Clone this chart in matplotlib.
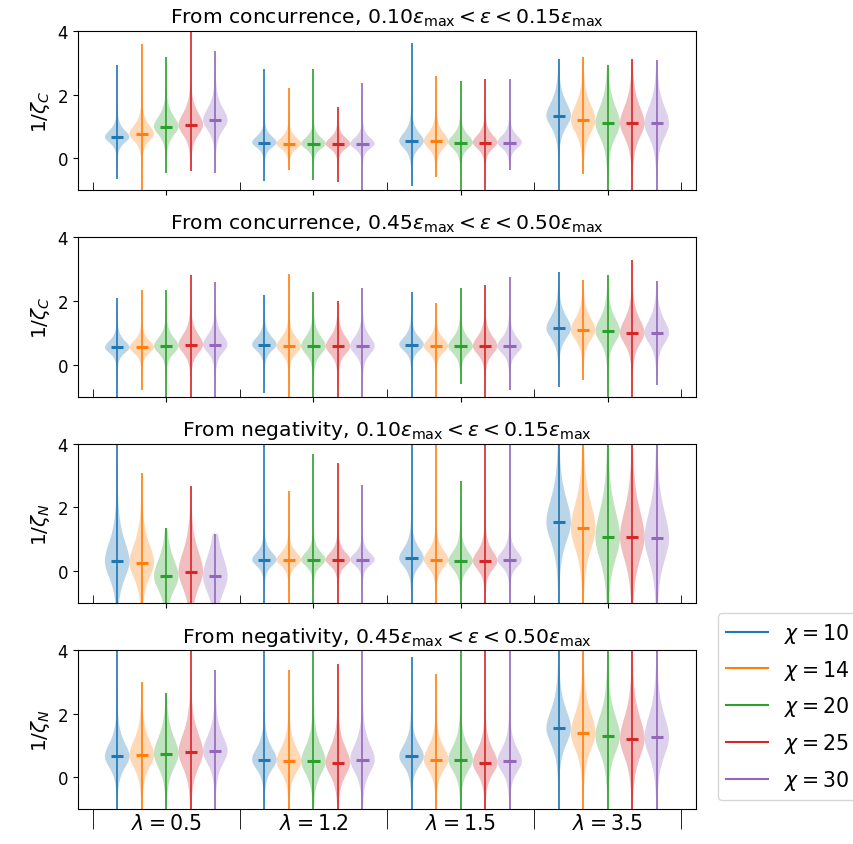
import numpy as np
import matplotlib.pyplot as plt
from matplotlib.lines import Line2D

plt.rcParams['font.size'] = 12

lambdas = ['0.5', '1.2', '1.5', '3.5']
chis = [10, 14, 20, 25, 30]
colors = ['C0', 'C1', 'C2', 'C3', 'C4']

titles = [
    r'From concurrence, $0.10\varepsilon_{\max} < \varepsilon < 0.15\varepsilon_{\max}$',
    r'From concurrence, $0.45\varepsilon_{\max} < \varepsilon < 0.50\varepsilon_{\max}$',
    r'From negativity, $0.10\varepsilon_{\max} < \varepsilon < 0.15\varepsilon_{\max}$',
    r'From negativity, $0.45\varepsilon_{\max} < \varepsilon < 0.50\varepsilon_{\max}$',
]
ylabels = [r'$1/\zeta_C$', r'$1/\zeta_C$', r'$1/\zeta_N$', r'$1/\zeta_N$']

# rows: chi = 10, 14, 20, 25, 30 ; cols: lambda = 0.5, 1.2, 1.5, 3.5
# panel 1: concurrence, 0.10-0.15
mean_c1 = [[0.67, 0.50, 0.54, 1.34],
           [0.77, 0.46, 0.54, 1.20],
           [1.00, 0.46, 0.50, 1.10],
           [1.05, 0.46, 0.50, 1.10],
           [1.20, 0.46, 0.50, 1.10]]
max_c1 = [[2.94, 2.80, 3.64, 3.12],
          [3.60, 2.20, 2.60, 3.18],
          [3.18, 2.80, 2.43, 2.94],
          [4.50, 1.63, 2.48, 3.12],
          [3.37, 2.38, 2.48, 3.08]]
min_c1 = [[-0.66, -0.70, -0.86, -1.5],
          [-1.5, -0.36, -0.58, -0.48],
          [-0.45, -0.69, -1.5, -1.5],
          [-0.40, -0.74, -1.5, -1.5],
          [-0.45, -1.5, -0.36, -1.5]]
spread_c1 = [[0.20, 0.18, 0.25, 0.40],
             [0.25, 0.18, 0.25, 0.45],
             [0.30, 0.18, 0.22, 0.50],
             [0.35, 0.18, 0.22, 0.50],
             [0.35, 0.18, 0.20, 0.50]]

# panel 2: concurrence, 0.45-0.50
mean_c2 = [[0.54, 0.63, 0.63, 1.14],
           [0.54, 0.58, 0.58, 1.09],
           [0.58, 0.58, 0.58, 1.05],
           [0.63, 0.58, 0.58, 1.00],
           [0.63, 0.58, 0.58, 1.00]]
max_c2 = [[2.08, 2.18, 2.27, 2.91],
          [2.36, 2.86, 1.95, 2.67],
          [2.36, 2.27, 2.40, 2.82],
          [2.83, 1.99, 2.50, 3.28],
          [2.59, 2.40, 2.77, 2.63]]
min_c2 = [[-1.5, -0.88, -1.5, -0.69],
          [-0.78, -1.5, -1.5, -0.47],
          [-1.5, -1.5, -0.61, -1.5],
          [-1.5, -1.5, -1.5, -1.5],
          [-1.5, -1.5, -0.78, -0.64]]
spread_c2 = [[0.20, 0.22, 0.22, 0.35],
             [0.20, 0.25, 0.22, 0.35],
             [0.25, 0.28, 0.25, 0.38],
             [0.30, 0.28, 0.28, 0.40],
             [0.28, 0.28, 0.25, 0.38]]

# panel 3: negativity, 0.10-0.15
mean_n1 = [[0.30, 0.35, 0.40, 1.53],
           [0.26, 0.35, 0.35, 1.34],
           [-0.17, 0.35, 0.31, 1.06],
           [-0.02, 0.35, 0.31, 1.06],
           [-0.17, 0.35, 0.35, 1.02]]
max_n1 = [[4.5, 4.5, 4.5, 4.5],
          [3.08, 2.50, 4.5, 4.5],
          [1.34, 3.66, 2.84, 4.5],
          [2.66, 3.40, 4.5, 4.5],
          [1.17, 2.70, 4.5, 4.5]]
min_n1 = [[-1.5, -1.5, -1.5, -1.5]] * 5
spread_n1 = [[0.60, 0.22, 0.30, 0.70],
             [0.55, 0.22, 0.28, 0.75],
             [0.50, 0.22, 0.28, 0.80],
             [0.60, 0.22, 0.30, 0.80],
             [0.60, 0.20, 0.25, 0.80]]

# panel 4: negativity, 0.45-0.50
mean_n2 = [[0.65, 0.55, 0.65, 1.53],
           [0.69, 0.50, 0.55, 1.39],
           [0.73, 0.50, 0.55, 1.29],
           [0.78, 0.45, 0.45, 1.20],
           [0.82, 0.55, 0.50, 1.25]]
max_n2 = [[4.5, 4.5, 3.78, 4.5],
          [3.00, 3.36, 3.23, 4.5],
          [2.63, 4.5, 4.5, 4.5],
          [4.5, 3.55, 4.5, 4.5],
          [3.36, 4.5, 4.5, 4.5]]
min_n2 = [[-1.5, -1.5, -1.5, -1.5]] * 5
spread_n2 = [[0.40, 0.35, 0.35, 0.55],
             [0.45, 0.40, 0.38, 0.60],
             [0.50, 0.45, 0.40, 0.60],
             [0.55, 0.45, 0.40, 0.65],
             [0.45, 0.45, 0.38, 0.65]]

panels = [(mean_c1, max_c1, min_c1, spread_c1),
          (mean_c2, max_c2, min_c2, spread_c2),
          (mean_n1, max_n1, min_n1, spread_n1),
          (mean_n2, max_n2, min_n2, spread_n2)]


def violin_stats(m, lo, hi, s):
    # heavy-tailed profile between min and max, slightly longer upper tail
    y = np.linspace(lo, hi, 300)
    scale = np.where(y > m, 1.2 * s, s)
    z = (y - m) / scale
    dens = (1 + z ** 2 / 3) ** -2
    return dict(coords=y, vals=dens, mean=m, median=m, min=lo, max=hi)


group_step = 6
centers = [group_step * g + 2 for g in range(len(lambdas))]
bounds = [group_step * g - 1 for g in range(len(lambdas) + 1)]

fig, axes = plt.subplots(4, 1, figsize=(8.54, 8.45), dpi=100)
fig.subplots_adjust(left=0.0913, right=0.815, top=0.962, bottom=0.0414, hspace=0.296)

for k, ax in enumerate(axes):
    means, maxs, mins, spreads = panels[k]
    for i, chi in enumerate(chis):
        pos = [group_step * g + i for g in range(len(lambdas))]
        stats = [violin_stats(means[i][g], mins[i][g], maxs[i][g], spreads[i][g])
                 for g in range(len(lambdas))]
        parts = ax.violin(stats, positions=pos, widths=1.0,
                          showmeans=True, showextrema=True)
        for b in parts['bodies']:
            b.set_facecolor(colors[i])
            b.set_edgecolor('none')
            b.set_alpha(0.3)
        parts['cbars'].set_color(colors[i])
        parts['cbars'].set_linewidth(1.2)
        parts['cmeans'].set_color(colors[i])
        parts['cmeans'].set_linewidth(2.2)
        parts['cmins'].set_visible(False)
        parts['cmaxes'].set_visible(False)

    ax.set_xlim(-1.6, 23.6)
    ax.set_ylim(-1, 4)
    ax.set_yticks([0, 2, 4])
    ax.set_title(titles[k], fontsize=14.6)
    ax.set_ylabel(ylabels[k], fontsize=14.5)
    ax.set_xticks(centers)
    ax.set_xticks(bounds, minor=True)
    if k < 3:
        ax.tick_params(axis='x', which='major', labelbottom=False)
        ax.tick_params(axis='x', which='minor', direction='in', length=6)
    else:
        ax.set_xticklabels([r'$\lambda = %s$' % l for l in lambdas], fontsize=14.8)
        ax.tick_params(axis='x', which='major', length=0, pad=3)
        ax.tick_params(axis='x', which='minor', direction='out', length=14.5)

handles = [Line2D([0], [0], color=colors[i], lw=1.5, label=r'$\chi = %d$' % c)
           for i, c in enumerate(chis)]
axes[3].legend(handles=handles, loc='upper left', bbox_to_anchor=(1.036, 1.234),
               borderaxespad=0, fontsize=14.8, labelspacing=0.62)

fig.savefig('out.png', dpi=100)
